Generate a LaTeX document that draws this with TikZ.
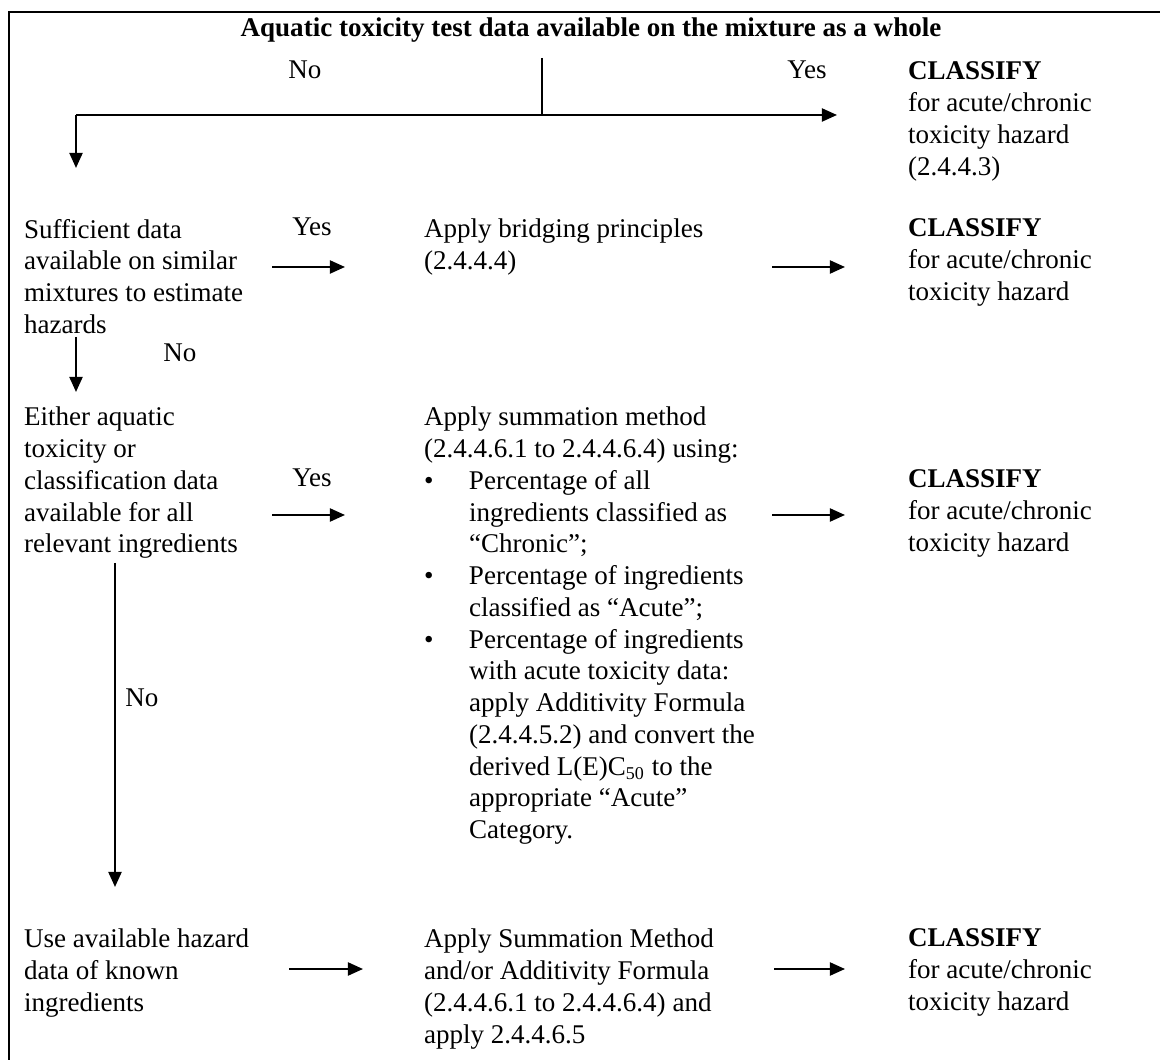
\documentclass[tikz,border=0pt]{standalone}
\usepackage{fontspec}
\setmainfont{Liberation Serif}
\usetikzlibrary{arrows.meta}
\newlength\unitpx
\setlength\unitpx{0.444pt}

\begin{document}
\begin{tikzpicture}[x=0.444pt,y=-0.444pt,>={Triangle[length=6.7pt,width=5.8pt]},line width=0.9pt,
  txt/.style={anchor=north west,align=left,inner sep=0pt,font=\fontsize{12}{14.1}\selectfont},
  lbl/.style={inner sep=0pt,font=\fontsize{12}{14.1}\selectfont}]
\useasboundingbox (0,0) rectangle (1160,1060);
\draw (1160,12) -- (9,12) -- (9,1060);
% question on top
\node[lbl,anchor=base] (title) at (591,37) {\bfseries Aquatic toxicity test data available on the mixture as a whole};
\node[lbl] (no1) at (305,70) {No};
\node[lbl] (yes1) at (807,70) {Yes};
\node[txt] (cls1) at (907,61) {\textbf{CLASSIFY}\\for acute/chronic\\toxicity hazard\\(2.4.4.3)};
% similar mixtures
\node[txt] (suff) at (23,218) {Sufficient data\\available on similar\\mixtures to estimate\\hazards};
\node[lbl] (yes2) at (312,227) {Yes};
\node[txt] (bridge) at (423,218) {Apply bridging principles\\(2.4.4.4)};
\node[txt] (cls2) at (907,218) {\textbf{CLASSIFY}\\for acute/chronic\\toxicity hazard};
\node[lbl] (no2) at (180,353) {No};
% all ingredients
\node[txt] (either) at (23,406) {Either aquatic\\toxicity or\\classification data\\available for all\\relevant ingredients};
\node[lbl] (yes3) at (312,478) {Yes};
\node[txt] (summ) at (423,406) {Apply summation method\\(2.4.4.6.1 to 2.4.4.6.4) using:\\
  \makebox[45\unitpx][l]{\textbullet}Percentage of all\\
  \hspace*{45\unitpx}ingredients classified as\\
  \hspace*{45\unitpx}“Chronic”;\\
  \makebox[45\unitpx][l]{\textbullet}Percentage of ingredients\\
  \hspace*{45\unitpx}classified as “Acute”;\\
  \makebox[45\unitpx][l]{\textbullet}Percentage of ingredients\\
  \hspace*{45\unitpx}with acute toxicity data:\\
  \hspace*{45\unitpx}apply Additivity Formula\\
  \hspace*{45\unitpx}(2.4.4.5.2) and convert the\\
  \hspace*{45\unitpx}derived L(E)C\textsubscript{50} to the\\
  \hspace*{45\unitpx}appropriate “Acute”\\
  \hspace*{45\unitpx}Category.};
\node[txt] (cls3) at (907,469) {\textbf{CLASSIFY}\\for acute/chronic\\toxicity hazard};
\node[lbl] (no3) at (142,698) {No};
% known ingredients
\node[txt] (known) at (23,928) {Use available hazard\\data of known\\ingredients};
\node[txt] (summ2) at (423,928) {Apply Summation Method\\and/or Additivity Formula\\(2.4.4.6.1 to 2.4.4.6.4) and\\apply 2.4.4.6.5};
\node[txt] (cls4) at (907,928) {\textbf{CLASSIFY}\\for acute/chronic\\toxicity hazard};
% arrow ends
\coordinate (tick) at (542,58);
\coordinate (split) at (542,115);
\coordinate (corner) at (76,115);
\coordinate (to1) at (837,115);
\coordinate (down1) at (76,168);
\coordinate (y2s) at (272,267); \coordinate (y2e) at (345,267);
\coordinate (b2s) at (772,267); \coordinate (b2e) at (845,267);
\coordinate (n2s) at (76,337); \coordinate (n2e) at (76,392);
\coordinate (y3s) at (272,515); \coordinate (y3e) at (345,515);
\coordinate (s3s) at (772,515); \coordinate (s3e) at (845,515);
\coordinate (n3s) at (115,563); \coordinate (n3e) at (115,887);
\coordinate (k4s) at (289,969); \coordinate (k4e) at (363,969);
\coordinate (s4s) at (774,969); \coordinate (s4e) at (845,969);
\draw (tick) -- (split);
\draw[->] (corner) -- (to1);
\draw[->] (corner) -- (down1);
\draw[->] (y2s) -- (y2e); \draw[->] (b2s) -- (b2e);
\draw[->] (n2s) -- (n2e);
\draw[->] (y3s) -- (y3e); \draw[->] (s3s) -- (s3e);
\draw[->] (n3s) -- (n3e);
\draw[->] (k4s) -- (k4e); \draw[->] (s4s) -- (s4e);
\end{tikzpicture}
\end{document}
